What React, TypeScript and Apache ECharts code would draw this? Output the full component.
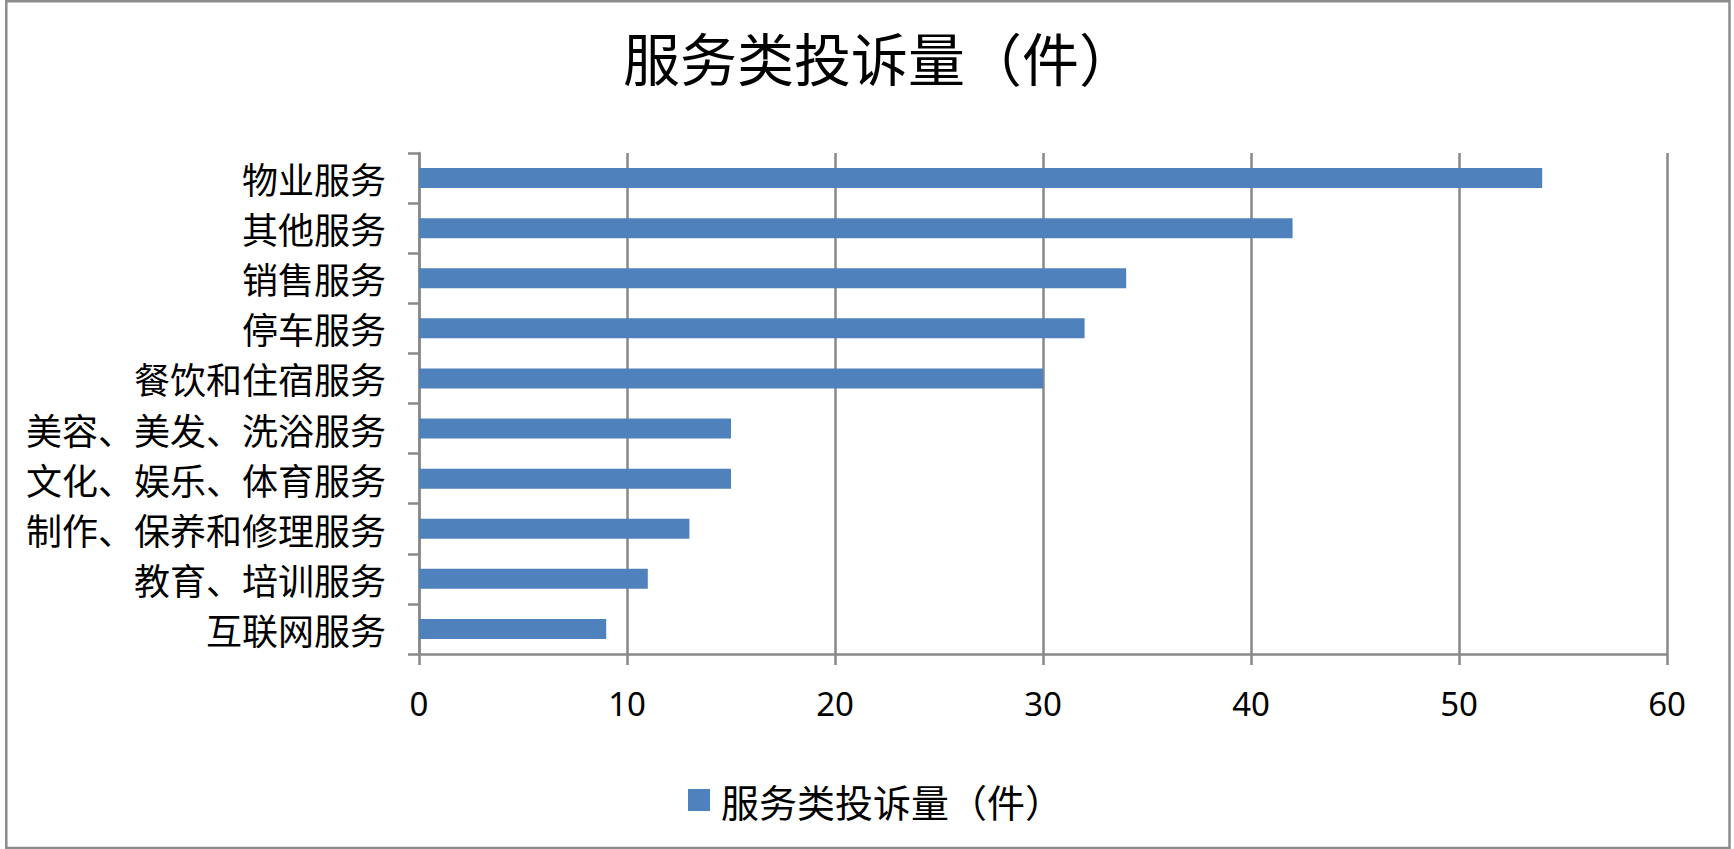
import React, { useEffect, useRef } from "react";
import * as echarts from "echarts";

const titleText = "服务类投诉量（件）";
const seriesName = "服务类投诉量（件）";
const categories = [
  "物业服务",
  "其他服务",
  "销售服务",
  "停车服务",
  "餐饮和住宿服务",
  "美容、美发、洗浴服务",
  "文化、娱乐、体育服务",
  "制作、保养和修理服务",
  "教育、培训服务",
  "互联网服务",
];
const values = [54, 42, 34, 32, 30, 15, 15, 13, 11, 9];
const xMin = 0;
const xMax = 60;
const xInterval = 10;

const CJK = '"Noto Sans CJK SC", "Noto Sans", sans-serif';
const NUM = '"Noto Sans", "Open Sans", sans-serif';
const GRAY = "#898989";

export default function App() {
  const ref = useRef<HTMLDivElement>(null);
  useEffect(() => {
    if (!ref.current) return;
    const chart = echarts.init(ref.current, null, { renderer: "svg" });
    chart.setOption({
      animation: false,
      backgroundColor: "#ffffff",
      title: {
        text: titleText,
        left: 618,
        top: 22,
        textStyle: { fontFamily: CJK, fontSize: 57, fontWeight: "normal", color: "#000" },
      },
      legend: {
        data: [seriesName],
        left: 683,
        top: 776,
        icon: "rect",
        itemWidth: 22,
        itemHeight: 22,
        textStyle: {
          fontFamily: CJK,
          fontSize: 38,
          lineHeight: 38,
          color: "#000",
          padding: [0, 0, 0, 6],
        },
      },
      grid: { left: 419, right: 67, top: 153, bottom: 195, containLabel: false },
      xAxis: {
        type: "value",
        min: xMin,
        max: xMax,
        interval: xInterval,
        axisLine: { show: true, lineStyle: { color: GRAY, width: 2.5 } },
        axisTick: { show: true, length: 11, lineStyle: { color: GRAY, width: 2.5 } },
        splitLine: { show: true, lineStyle: { color: GRAY, width: 2.5 } },
        axisLabel: { fontFamily: NUM, fontSize: 33, color: "#000", margin: 33 },
      },
      yAxis: {
        type: "category",
        inverse: true,
        data: categories,
        axisLine: { show: true, lineStyle: { color: GRAY, width: 2.5 } },
        axisTick: { show: true, length: 11, lineStyle: { color: GRAY, width: 2.5 } },
        axisLabel: { fontFamily: CJK, fontSize: 36, color: "#000", margin: 33 },
      },
      series: [
        {
          name: seriesName,
          type: "bar",
          data: values,
          barWidth: 20,
          itemStyle: { color: "#4F81BD" },
        },
      ],
      graphic: [
        {
          type: "rect",
          shape: { x: 6.3, y: 1.2, width: 1723.2, height: 846.8 },
          style: { fill: "none", stroke: "#8c8c8c", lineWidth: 2.5 },
          silent: true,
        },
      ],
    });
    return () => chart.dispose();
  }, []);
  return (
    <div
      ref={ref}
      style={{ position: "fixed", left: 0, top: 0, width: 1734, height: 849 }}
    />
  );
}
